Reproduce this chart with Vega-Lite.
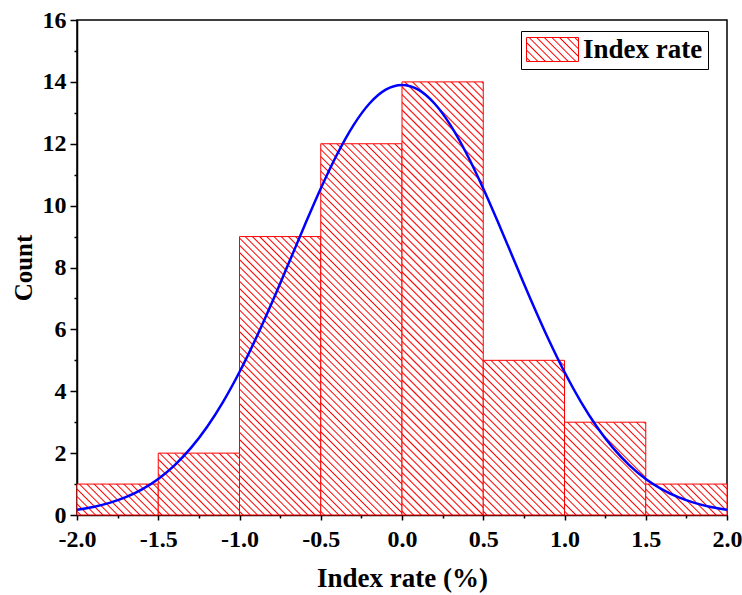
{
"$schema": "https://vega.github.io/schema/vega-lite/v6.json",
"width": 650, "height": 495,
"autosize": "none",
"padding": {"left": 77, "top": 20, "right": 15, "bottom": 80},
"config": {"font": "Liberation Serif", "view": {"stroke": "black", "strokeWidth": 1.5}},
"datasets": {
"bins": [
{"start": -2.0, "end": -1.5, "count": 1},
{"start": -1.5, "end": -1.0, "count": 2},
{"start": -1.0, "end": -0.5, "count": 9},
{"start": -0.5, "end": 0.0, "count": 12},
{"start": 0.0, "end": 0.5, "count": 14},
{"start": 0.5, "end": 1.0, "count": 5},
{"start": 1.0, "end": 1.5, "count": 3},
{"start": 1.5, "end": 2.0, "count": 1}
],
"curve": [
{"x": -2.0, "y": 0.170},{"x": -1.9, "y": 0.261},{"x": -1.8, "y": 0.392},{"x": -1.7, "y": 0.576},{"x": -1.6, "y": 0.829},
{"x": -1.5, "y": 1.166},{"x": -1.4, "y": 1.605},{"x": -1.3, "y": 2.161},{"x": -1.2, "y": 2.847},{"x": -1.1, "y": 3.667},
{"x": -1.0, "y": 4.621},{"x": -0.9, "y": 5.696},{"x": -0.8, "y": 6.869},{"x": -0.7, "y": 8.103},{"x": -0.6, "y": 9.350},
{"x": -0.5, "y": 10.555},{"x": -0.4, "y": 11.654},{"x": -0.3, "y": 12.588},{"x": -0.2, "y": 13.301},{"x": -0.1, "y": 13.748},
{"x": 0.0, "y": 13.9},
{"x": 0.1, "y": 13.748},{"x": 0.2, "y": 13.301},{"x": 0.3, "y": 12.588},{"x": 0.4, "y": 11.654},{"x": 0.5, "y": 10.555},
{"x": 0.6, "y": 9.350},{"x": 0.7, "y": 8.103},{"x": 0.8, "y": 6.869},{"x": 0.9, "y": 5.696},{"x": 1.0, "y": 4.621},
{"x": 1.1, "y": 3.667},{"x": 1.2, "y": 2.847},{"x": 1.3, "y": 2.161},{"x": 1.4, "y": 1.605},{"x": 1.5, "y": 1.166},
{"x": 1.6, "y": 0.829},{"x": 1.7, "y": 0.576},{"x": 1.8, "y": 0.392},{"x": 1.9, "y": 0.261},{"x": 2.0, "y": 0.170}
]
},
"resolve": {"axis": {"x": "independent", "y": "independent"}},
"layer": [
{
"data": {"name": "bins"},
"mark": {"type": "bar", "strokeWidth": 1, "opacity": 1},
"encoding": {
"x": {"field": "start", "type": "quantitative", "scale": {"domain": [-2, 2], "nice": false},
  "axis": {"orient": "bottom", "values": [-2, -1.5, -1, -0.5, 0, 0.5, 1, 1.5, 2],
  "labelExpr": "(datum.value < 0 ? '-' : '') + format(abs(datum.value), '.1f')", "grid": false,
  "tickSize": 5, "tickWidth": 1.5, "tickColor": "black", "domainColor": "black", "domainWidth": 1.5,
  "labelFont": "Liberation Serif", "labelFontSize": 24, "labelFontWeight": "bold", "labelColor": "black", "labelPadding": 7,
  "labelFlush": false, "labelOverlap": false,
  "title": "Index rate (%)", "titleFont": "Liberation Serif", "titleFontSize": 27, "titleFontWeight": "bold", "titleColor": "black", "titlePadding": 14}},
"x2": {"field": "end"},
"y": {"field": "count", "type": "quantitative", "scale": {"domain": [0, 16], "nice": false},
  "axis": {"orient": "left", "values": [0, 2, 4, 6, 8, 10, 12, 14, 16], "grid": false,
  "tickSize": 7, "tickWidth": 1.5, "tickColor": "black", "domainColor": "black", "domainWidth": 1.5,
  "labelFont": "Liberation Serif", "labelFontSize": 24, "labelFontWeight": "bold", "labelColor": "black", "labelPadding": 4,
  "labelFlush": false, "labelOverlap": false,
  "title": "Count", "titleFont": "Liberation Serif", "titleFontSize": 25, "titleFontWeight": "bold", "titleColor": "black", "titlePadding": 6}},
"y2": {"datum": 0},
"stroke": {"datum": "Index rate", "type": "nominal", "scale": {"range": ["#ff0000"]},
  "legend": {"title": null, "orient": "none", "legendX": 444, "legendY": 11,
  "symbolType": "M-2,-0.923H2V0.923H-2Z", "symbolSize": 676, "symbolStrokeWidth": 1, "symbolOpacity": 1, "symbolOffset": 13,
  "labelFont": "Liberation Serif", "labelFontSize": 27, "labelFontWeight": "bold", "labelColor": "black", "labelLimit": 400,
  "labelOffset": 17, "padding": 5, "strokeColor": "black"}},
"fill": {"condition": [
{"test": "datum.count == 1", "value": {"gradient": "linear", "x1": 0, "y1": 1, "x2": 1.2059, "y2": 0.5408, "stops": [
{"offset":0.0205,"color":"#fff"},{"offset":0.033,"color":"#f00"},{"offset":0.0455,"color":"#fff"},
{"offset":0.0865,"color":"#fff"},{"offset":0.099,"color":"#f00"},{"offset":0.1115,"color":"#fff"},
{"offset":0.1525,"color":"#fff"},{"offset":0.165,"color":"#f00"},{"offset":0.1775,"color":"#fff"},
{"offset":0.2185,"color":"#fff"},{"offset":0.231,"color":"#f00"},{"offset":0.2435,"color":"#fff"},
{"offset":0.2845,"color":"#fff"},{"offset":0.297,"color":"#f00"},{"offset":0.3095,"color":"#fff"},
{"offset":0.3505,"color":"#fff"},{"offset":0.363,"color":"#f00"},{"offset":0.3755,"color":"#fff"},
{"offset":0.4165,"color":"#fff"},{"offset":0.429,"color":"#f00"},{"offset":0.4415,"color":"#fff"},
{"offset":0.4825,"color":"#fff"},{"offset":0.495,"color":"#f00"},{"offset":0.5075,"color":"#fff"},
{"offset":0.5485,"color":"#fff"},{"offset":0.561,"color":"#f00"},{"offset":0.5735,"color":"#fff"},
{"offset":0.6145,"color":"#fff"},{"offset":0.627,"color":"#f00"},{"offset":0.6395,"color":"#fff"},
{"offset":0.6805,"color":"#fff"},{"offset":0.693,"color":"#f00"},{"offset":0.7055,"color":"#fff"},
{"offset":0.7465,"color":"#fff"},{"offset":0.759,"color":"#f00"},{"offset":0.7715,"color":"#fff"},
{"offset":0.8125,"color":"#fff"},{"offset":0.825,"color":"#f00"},{"offset":0.8375,"color":"#fff"},
{"offset":0.8785,"color":"#fff"},{"offset":0.891,"color":"#f00"},{"offset":0.9035,"color":"#fff"},
{"offset":0.9445,"color":"#fff"},{"offset":0.957,"color":"#f00"},{"offset":0.9695,"color":"#fff"}]}},
{"test": "datum.count == 2", "value": {"gradient": "linear", "x1": 0, "y1": 1, "x2": 1.1149, "y2": 0.1509, "stops": [
{"offset":0.016,"color":"#fff"},{"offset":0.026,"color":"#f00"},{"offset":0.036,"color":"#fff"},
{"offset":0.068,"color":"#fff"},{"offset":0.078,"color":"#f00"},{"offset":0.088,"color":"#fff"},
{"offset":0.120,"color":"#fff"},{"offset":0.130,"color":"#f00"},{"offset":0.140,"color":"#fff"},
{"offset":0.172,"color":"#fff"},{"offset":0.182,"color":"#f00"},{"offset":0.192,"color":"#fff"},
{"offset":0.224,"color":"#fff"},{"offset":0.234,"color":"#f00"},{"offset":0.244,"color":"#fff"},
{"offset":0.276,"color":"#fff"},{"offset":0.286,"color":"#f00"},{"offset":0.296,"color":"#fff"},
{"offset":0.328,"color":"#fff"},{"offset":0.338,"color":"#f00"},{"offset":0.348,"color":"#fff"},
{"offset":0.380,"color":"#fff"},{"offset":0.390,"color":"#f00"},{"offset":0.400,"color":"#fff"},
{"offset":0.432,"color":"#fff"},{"offset":0.442,"color":"#f00"},{"offset":0.452,"color":"#fff"},
{"offset":0.484,"color":"#fff"},{"offset":0.494,"color":"#f00"},{"offset":0.504,"color":"#fff"},
{"offset":0.536,"color":"#fff"},{"offset":0.546,"color":"#f00"},{"offset":0.556,"color":"#fff"},
{"offset":0.588,"color":"#fff"},{"offset":0.598,"color":"#f00"},{"offset":0.608,"color":"#fff"},
{"offset":0.640,"color":"#fff"},{"offset":0.650,"color":"#f00"},{"offset":0.660,"color":"#fff"},
{"offset":0.692,"color":"#fff"},{"offset":0.702,"color":"#f00"},{"offset":0.712,"color":"#fff"},
{"offset":0.744,"color":"#fff"},{"offset":0.754,"color":"#f00"},{"offset":0.764,"color":"#fff"},
{"offset":0.796,"color":"#fff"},{"offset":0.806,"color":"#f00"},{"offset":0.816,"color":"#fff"},
{"offset":0.848,"color":"#fff"},{"offset":0.858,"color":"#f00"},{"offset":0.868,"color":"#fff"},
{"offset":0.900,"color":"#fff"},{"offset":0.910,"color":"#f00"},{"offset":0.920,"color":"#fff"},
{"offset":0.952,"color":"#fff"},{"offset":0.962,"color":"#f00"},{"offset":0.972,"color":"#fff"}]}},
{"test": "datum.count == 3", "value": {"gradient": "linear", "x1": 0, "y1": 1, "x2": 0.9295, "y2": -0.0618, "stops": [
{"offset":0.014,"color":"#fff"},{"offset":0.022,"color":"#f00"},{"offset":0.030,"color":"#fff"},
{"offset":0.058,"color":"#fff"},{"offset":0.066,"color":"#f00"},{"offset":0.074,"color":"#fff"},
{"offset":0.102,"color":"#fff"},{"offset":0.110,"color":"#f00"},{"offset":0.118,"color":"#fff"},
{"offset":0.146,"color":"#fff"},{"offset":0.154,"color":"#f00"},{"offset":0.162,"color":"#fff"},
{"offset":0.190,"color":"#fff"},{"offset":0.198,"color":"#f00"},{"offset":0.206,"color":"#fff"},
{"offset":0.234,"color":"#fff"},{"offset":0.242,"color":"#f00"},{"offset":0.250,"color":"#fff"},
{"offset":0.278,"color":"#fff"},{"offset":0.286,"color":"#f00"},{"offset":0.294,"color":"#fff"},
{"offset":0.322,"color":"#fff"},{"offset":0.330,"color":"#f00"},{"offset":0.338,"color":"#fff"},
{"offset":0.366,"color":"#fff"},{"offset":0.374,"color":"#f00"},{"offset":0.382,"color":"#fff"},
{"offset":0.410,"color":"#fff"},{"offset":0.418,"color":"#f00"},{"offset":0.426,"color":"#fff"},
{"offset":0.454,"color":"#fff"},{"offset":0.462,"color":"#f00"},{"offset":0.470,"color":"#fff"},
{"offset":0.498,"color":"#fff"},{"offset":0.506,"color":"#f00"},{"offset":0.514,"color":"#fff"},
{"offset":0.542,"color":"#fff"},{"offset":0.550,"color":"#f00"},{"offset":0.558,"color":"#fff"},
{"offset":0.586,"color":"#fff"},{"offset":0.594,"color":"#f00"},{"offset":0.602,"color":"#fff"},
{"offset":0.630,"color":"#fff"},{"offset":0.638,"color":"#f00"},{"offset":0.646,"color":"#fff"},
{"offset":0.674,"color":"#fff"},{"offset":0.682,"color":"#f00"},{"offset":0.690,"color":"#fff"},
{"offset":0.718,"color":"#fff"},{"offset":0.726,"color":"#f00"},{"offset":0.734,"color":"#fff"},
{"offset":0.762,"color":"#fff"},{"offset":0.770,"color":"#f00"},{"offset":0.778,"color":"#fff"},
{"offset":0.806,"color":"#fff"},{"offset":0.814,"color":"#f00"},{"offset":0.822,"color":"#fff"},
{"offset":0.850,"color":"#fff"},{"offset":0.858,"color":"#f00"},{"offset":0.866,"color":"#fff"},
{"offset":0.894,"color":"#fff"},{"offset":0.902,"color":"#f00"},{"offset":0.910,"color":"#fff"},
{"offset":0.938,"color":"#fff"},{"offset":0.946,"color":"#f00"},{"offset":0.954,"color":"#fff"},
{"offset":0.982,"color":"#fff"},{"offset":0.990,"color":"#f00"},{"offset":0.998,"color":"#fff"}]}},
{"test": "datum.count == 5", "value": {"gradient": "linear", "x1": 0, "y1": 1, "x2": 0.6279, "y2": -0.1954, "stops": [
{"offset":0.010,"color":"#fff"},{"offset":0.016,"color":"#f00"},{"offset":0.022,"color":"#fff"},
{"offset":0.042,"color":"#fff"},{"offset":0.048,"color":"#f00"},{"offset":0.054,"color":"#fff"},
{"offset":0.074,"color":"#fff"},{"offset":0.080,"color":"#f00"},{"offset":0.086,"color":"#fff"},
{"offset":0.106,"color":"#fff"},{"offset":0.112,"color":"#f00"},{"offset":0.118,"color":"#fff"},
{"offset":0.138,"color":"#fff"},{"offset":0.144,"color":"#f00"},{"offset":0.150,"color":"#fff"},
{"offset":0.170,"color":"#fff"},{"offset":0.176,"color":"#f00"},{"offset":0.182,"color":"#fff"},
{"offset":0.202,"color":"#fff"},{"offset":0.208,"color":"#f00"},{"offset":0.214,"color":"#fff"},
{"offset":0.234,"color":"#fff"},{"offset":0.240,"color":"#f00"},{"offset":0.246,"color":"#fff"},
{"offset":0.266,"color":"#fff"},{"offset":0.272,"color":"#f00"},{"offset":0.278,"color":"#fff"},
{"offset":0.298,"color":"#fff"},{"offset":0.304,"color":"#f00"},{"offset":0.310,"color":"#fff"},
{"offset":0.330,"color":"#fff"},{"offset":0.336,"color":"#f00"},{"offset":0.342,"color":"#fff"},
{"offset":0.362,"color":"#fff"},{"offset":0.368,"color":"#f00"},{"offset":0.374,"color":"#fff"},
{"offset":0.394,"color":"#fff"},{"offset":0.400,"color":"#f00"},{"offset":0.406,"color":"#fff"},
{"offset":0.426,"color":"#fff"},{"offset":0.432,"color":"#f00"},{"offset":0.438,"color":"#fff"},
{"offset":0.458,"color":"#fff"},{"offset":0.464,"color":"#f00"},{"offset":0.470,"color":"#fff"},
{"offset":0.490,"color":"#fff"},{"offset":0.496,"color":"#f00"},{"offset":0.502,"color":"#fff"},
{"offset":0.522,"color":"#fff"},{"offset":0.528,"color":"#f00"},{"offset":0.534,"color":"#fff"},
{"offset":0.554,"color":"#fff"},{"offset":0.560,"color":"#f00"},{"offset":0.566,"color":"#fff"},
{"offset":0.586,"color":"#fff"},{"offset":0.592,"color":"#f00"},{"offset":0.598,"color":"#fff"},
{"offset":0.618,"color":"#fff"},{"offset":0.624,"color":"#f00"},{"offset":0.630,"color":"#fff"},
{"offset":0.650,"color":"#fff"},{"offset":0.656,"color":"#f00"},{"offset":0.662,"color":"#fff"},
{"offset":0.682,"color":"#fff"},{"offset":0.688,"color":"#f00"},{"offset":0.694,"color":"#fff"},
{"offset":0.714,"color":"#fff"},{"offset":0.720,"color":"#f00"},{"offset":0.726,"color":"#fff"},
{"offset":0.746,"color":"#fff"},{"offset":0.752,"color":"#f00"},{"offset":0.758,"color":"#fff"},
{"offset":0.778,"color":"#fff"},{"offset":0.784,"color":"#f00"},{"offset":0.790,"color":"#fff"},
{"offset":0.810,"color":"#fff"},{"offset":0.816,"color":"#f00"},{"offset":0.822,"color":"#fff"},
{"offset":0.842,"color":"#fff"},{"offset":0.848,"color":"#f00"},{"offset":0.854,"color":"#fff"},
{"offset":0.874,"color":"#fff"},{"offset":0.880,"color":"#f00"},{"offset":0.886,"color":"#fff"},
{"offset":0.906,"color":"#fff"},{"offset":0.912,"color":"#f00"},{"offset":0.918,"color":"#fff"},
{"offset":0.938,"color":"#fff"},{"offset":0.944,"color":"#f00"},{"offset":0.950,"color":"#fff"},
{"offset":0.970,"color":"#fff"},{"offset":0.976,"color":"#f00"},{"offset":0.982,"color":"#fff"}]}},
{"test": "datum.count == 9", "value": {"gradient": "linear", "x1": 0, "y1": 1, "x2": 0.3474, "y2": -0.1904, "stops": [
{"offset":0.006,"color":"#fff"},{"offset":0.01,"color":"#f00"},{"offset":0.014,"color":"#fff"},
{"offset":0.026,"color":"#fff"},{"offset":0.03,"color":"#f00"},{"offset":0.034,"color":"#fff"},
{"offset":0.046,"color":"#fff"},{"offset":0.05,"color":"#f00"},{"offset":0.054,"color":"#fff"},
{"offset":0.066,"color":"#fff"},{"offset":0.07,"color":"#f00"},{"offset":0.074,"color":"#fff"},
{"offset":0.086,"color":"#fff"},{"offset":0.09,"color":"#f00"},{"offset":0.094,"color":"#fff"},
{"offset":0.106,"color":"#fff"},{"offset":0.11,"color":"#f00"},{"offset":0.114,"color":"#fff"},
{"offset":0.126,"color":"#fff"},{"offset":0.13,"color":"#f00"},{"offset":0.134,"color":"#fff"},
{"offset":0.146,"color":"#fff"},{"offset":0.15,"color":"#f00"},{"offset":0.154,"color":"#fff"},
{"offset":0.166,"color":"#fff"},{"offset":0.17,"color":"#f00"},{"offset":0.174,"color":"#fff"},
{"offset":0.186,"color":"#fff"},{"offset":0.19,"color":"#f00"},{"offset":0.194,"color":"#fff"},
{"offset":0.206,"color":"#fff"},{"offset":0.21,"color":"#f00"},{"offset":0.214,"color":"#fff"},
{"offset":0.226,"color":"#fff"},{"offset":0.23,"color":"#f00"},{"offset":0.234,"color":"#fff"},
{"offset":0.246,"color":"#fff"},{"offset":0.25,"color":"#f00"},{"offset":0.254,"color":"#fff"},
{"offset":0.266,"color":"#fff"},{"offset":0.27,"color":"#f00"},{"offset":0.274,"color":"#fff"},
{"offset":0.286,"color":"#fff"},{"offset":0.29,"color":"#f00"},{"offset":0.294,"color":"#fff"},
{"offset":0.306,"color":"#fff"},{"offset":0.31,"color":"#f00"},{"offset":0.314,"color":"#fff"},
{"offset":0.326,"color":"#fff"},{"offset":0.33,"color":"#f00"},{"offset":0.334,"color":"#fff"},
{"offset":0.346,"color":"#fff"},{"offset":0.35,"color":"#f00"},{"offset":0.354,"color":"#fff"},
{"offset":0.366,"color":"#fff"},{"offset":0.37,"color":"#f00"},{"offset":0.374,"color":"#fff"},
{"offset":0.386,"color":"#fff"},{"offset":0.39,"color":"#f00"},{"offset":0.394,"color":"#fff"},
{"offset":0.406,"color":"#fff"},{"offset":0.41,"color":"#f00"},{"offset":0.414,"color":"#fff"},
{"offset":0.426,"color":"#fff"},{"offset":0.43,"color":"#f00"},{"offset":0.434,"color":"#fff"},
{"offset":0.446,"color":"#fff"},{"offset":0.45,"color":"#f00"},{"offset":0.454,"color":"#fff"},
{"offset":0.466,"color":"#fff"},{"offset":0.47,"color":"#f00"},{"offset":0.474,"color":"#fff"},
{"offset":0.486,"color":"#fff"},{"offset":0.49,"color":"#f00"},{"offset":0.494,"color":"#fff"},
{"offset":0.506,"color":"#fff"},{"offset":0.51,"color":"#f00"},{"offset":0.514,"color":"#fff"},
{"offset":0.526,"color":"#fff"},{"offset":0.53,"color":"#f00"},{"offset":0.534,"color":"#fff"},
{"offset":0.546,"color":"#fff"},{"offset":0.55,"color":"#f00"},{"offset":0.554,"color":"#fff"},
{"offset":0.566,"color":"#fff"},{"offset":0.57,"color":"#f00"},{"offset":0.574,"color":"#fff"},
{"offset":0.586,"color":"#fff"},{"offset":0.59,"color":"#f00"},{"offset":0.594,"color":"#fff"},
{"offset":0.606,"color":"#fff"},{"offset":0.61,"color":"#f00"},{"offset":0.614,"color":"#fff"},
{"offset":0.626,"color":"#fff"},{"offset":0.63,"color":"#f00"},{"offset":0.634,"color":"#fff"},
{"offset":0.646,"color":"#fff"},{"offset":0.65,"color":"#f00"},{"offset":0.654,"color":"#fff"},
{"offset":0.666,"color":"#fff"},{"offset":0.67,"color":"#f00"},{"offset":0.674,"color":"#fff"},
{"offset":0.686,"color":"#fff"},{"offset":0.69,"color":"#f00"},{"offset":0.694,"color":"#fff"},
{"offset":0.706,"color":"#fff"},{"offset":0.71,"color":"#f00"},{"offset":0.714,"color":"#fff"},
{"offset":0.726,"color":"#fff"},{"offset":0.73,"color":"#f00"},{"offset":0.734,"color":"#fff"},
{"offset":0.746,"color":"#fff"},{"offset":0.75,"color":"#f00"},{"offset":0.754,"color":"#fff"},
{"offset":0.766,"color":"#fff"},{"offset":0.77,"color":"#f00"},{"offset":0.774,"color":"#fff"},
{"offset":0.786,"color":"#fff"},{"offset":0.79,"color":"#f00"},{"offset":0.794,"color":"#fff"},
{"offset":0.806,"color":"#fff"},{"offset":0.81,"color":"#f00"},{"offset":0.814,"color":"#fff"},
{"offset":0.826,"color":"#fff"},{"offset":0.83,"color":"#f00"},{"offset":0.834,"color":"#fff"},
{"offset":0.846,"color":"#fff"},{"offset":0.85,"color":"#f00"},{"offset":0.854,"color":"#fff"},
{"offset":0.866,"color":"#fff"},{"offset":0.87,"color":"#f00"},{"offset":0.874,"color":"#fff"},
{"offset":0.886,"color":"#fff"},{"offset":0.89,"color":"#f00"},{"offset":0.894,"color":"#fff"},
{"offset":0.906,"color":"#fff"},{"offset":0.91,"color":"#f00"},{"offset":0.914,"color":"#fff"},
{"offset":0.926,"color":"#fff"},{"offset":0.93,"color":"#f00"},{"offset":0.934,"color":"#fff"},
{"offset":0.946,"color":"#fff"},{"offset":0.95,"color":"#f00"},{"offset":0.954,"color":"#fff"},
{"offset":0.966,"color":"#fff"},{"offset":0.97,"color":"#f00"},{"offset":0.974,"color":"#fff"},
{"offset":0.986,"color":"#fff"},{"offset":0.99,"color":"#f00"},{"offset":0.994,"color":"#fff"}]}},
{"test": "datum.count == 12", "value": {"gradient": "linear", "x1": 0, "y1": 1, "x2": 0.2546, "y2": -0.1632, "stops": [
{"offset":0.005,"color":"#fff"},{"offset":0.008,"color":"#f00"},{"offset":0.011,"color":"#fff"},
{"offset":0.021,"color":"#fff"},{"offset":0.024,"color":"#f00"},{"offset":0.027,"color":"#fff"},
{"offset":0.037,"color":"#fff"},{"offset":0.040,"color":"#f00"},{"offset":0.043,"color":"#fff"},
{"offset":0.053,"color":"#fff"},{"offset":0.056,"color":"#f00"},{"offset":0.059,"color":"#fff"},
{"offset":0.069,"color":"#fff"},{"offset":0.072,"color":"#f00"},{"offset":0.075,"color":"#fff"},
{"offset":0.085,"color":"#fff"},{"offset":0.088,"color":"#f00"},{"offset":0.091,"color":"#fff"},
{"offset":0.101,"color":"#fff"},{"offset":0.104,"color":"#f00"},{"offset":0.107,"color":"#fff"},
{"offset":0.117,"color":"#fff"},{"offset":0.120,"color":"#f00"},{"offset":0.123,"color":"#fff"},
{"offset":0.133,"color":"#fff"},{"offset":0.136,"color":"#f00"},{"offset":0.139,"color":"#fff"},
{"offset":0.149,"color":"#fff"},{"offset":0.152,"color":"#f00"},{"offset":0.155,"color":"#fff"},
{"offset":0.165,"color":"#fff"},{"offset":0.168,"color":"#f00"},{"offset":0.171,"color":"#fff"},
{"offset":0.181,"color":"#fff"},{"offset":0.184,"color":"#f00"},{"offset":0.187,"color":"#fff"},
{"offset":0.197,"color":"#fff"},{"offset":0.200,"color":"#f00"},{"offset":0.203,"color":"#fff"},
{"offset":0.213,"color":"#fff"},{"offset":0.216,"color":"#f00"},{"offset":0.219,"color":"#fff"},
{"offset":0.229,"color":"#fff"},{"offset":0.232,"color":"#f00"},{"offset":0.235,"color":"#fff"},
{"offset":0.245,"color":"#fff"},{"offset":0.248,"color":"#f00"},{"offset":0.251,"color":"#fff"},
{"offset":0.261,"color":"#fff"},{"offset":0.264,"color":"#f00"},{"offset":0.267,"color":"#fff"},
{"offset":0.277,"color":"#fff"},{"offset":0.280,"color":"#f00"},{"offset":0.283,"color":"#fff"},
{"offset":0.293,"color":"#fff"},{"offset":0.296,"color":"#f00"},{"offset":0.299,"color":"#fff"},
{"offset":0.309,"color":"#fff"},{"offset":0.312,"color":"#f00"},{"offset":0.315,"color":"#fff"},
{"offset":0.325,"color":"#fff"},{"offset":0.328,"color":"#f00"},{"offset":0.331,"color":"#fff"},
{"offset":0.341,"color":"#fff"},{"offset":0.344,"color":"#f00"},{"offset":0.347,"color":"#fff"},
{"offset":0.357,"color":"#fff"},{"offset":0.360,"color":"#f00"},{"offset":0.363,"color":"#fff"},
{"offset":0.373,"color":"#fff"},{"offset":0.376,"color":"#f00"},{"offset":0.379,"color":"#fff"},
{"offset":0.389,"color":"#fff"},{"offset":0.392,"color":"#f00"},{"offset":0.395,"color":"#fff"},
{"offset":0.405,"color":"#fff"},{"offset":0.408,"color":"#f00"},{"offset":0.411,"color":"#fff"},
{"offset":0.421,"color":"#fff"},{"offset":0.424,"color":"#f00"},{"offset":0.427,"color":"#fff"},
{"offset":0.437,"color":"#fff"},{"offset":0.440,"color":"#f00"},{"offset":0.443,"color":"#fff"},
{"offset":0.453,"color":"#fff"},{"offset":0.456,"color":"#f00"},{"offset":0.459,"color":"#fff"},
{"offset":0.469,"color":"#fff"},{"offset":0.472,"color":"#f00"},{"offset":0.475,"color":"#fff"},
{"offset":0.485,"color":"#fff"},{"offset":0.488,"color":"#f00"},{"offset":0.491,"color":"#fff"},
{"offset":0.501,"color":"#fff"},{"offset":0.504,"color":"#f00"},{"offset":0.507,"color":"#fff"},
{"offset":0.517,"color":"#fff"},{"offset":0.520,"color":"#f00"},{"offset":0.523,"color":"#fff"},
{"offset":0.533,"color":"#fff"},{"offset":0.536,"color":"#f00"},{"offset":0.539,"color":"#fff"},
{"offset":0.549,"color":"#fff"},{"offset":0.552,"color":"#f00"},{"offset":0.555,"color":"#fff"},
{"offset":0.565,"color":"#fff"},{"offset":0.568,"color":"#f00"},{"offset":0.571,"color":"#fff"},
{"offset":0.581,"color":"#fff"},{"offset":0.584,"color":"#f00"},{"offset":0.587,"color":"#fff"},
{"offset":0.597,"color":"#fff"},{"offset":0.600,"color":"#f00"},{"offset":0.603,"color":"#fff"},
{"offset":0.613,"color":"#fff"},{"offset":0.616,"color":"#f00"},{"offset":0.619,"color":"#fff"},
{"offset":0.629,"color":"#fff"},{"offset":0.632,"color":"#f00"},{"offset":0.635,"color":"#fff"},
{"offset":0.645,"color":"#fff"},{"offset":0.648,"color":"#f00"},{"offset":0.651,"color":"#fff"},
{"offset":0.661,"color":"#fff"},{"offset":0.664,"color":"#f00"},{"offset":0.667,"color":"#fff"},
{"offset":0.677,"color":"#fff"},{"offset":0.680,"color":"#f00"},{"offset":0.683,"color":"#fff"},
{"offset":0.693,"color":"#fff"},{"offset":0.696,"color":"#f00"},{"offset":0.699,"color":"#fff"},
{"offset":0.709,"color":"#fff"},{"offset":0.712,"color":"#f00"},{"offset":0.715,"color":"#fff"},
{"offset":0.725,"color":"#fff"},{"offset":0.728,"color":"#f00"},{"offset":0.731,"color":"#fff"},
{"offset":0.741,"color":"#fff"},{"offset":0.744,"color":"#f00"},{"offset":0.747,"color":"#fff"},
{"offset":0.757,"color":"#fff"},{"offset":0.760,"color":"#f00"},{"offset":0.763,"color":"#fff"},
{"offset":0.773,"color":"#fff"},{"offset":0.776,"color":"#f00"},{"offset":0.779,"color":"#fff"},
{"offset":0.789,"color":"#fff"},{"offset":0.792,"color":"#f00"},{"offset":0.795,"color":"#fff"},
{"offset":0.805,"color":"#fff"},{"offset":0.808,"color":"#f00"},{"offset":0.811,"color":"#fff"},
{"offset":0.821,"color":"#fff"},{"offset":0.824,"color":"#f00"},{"offset":0.827,"color":"#fff"},
{"offset":0.837,"color":"#fff"},{"offset":0.840,"color":"#f00"},{"offset":0.843,"color":"#fff"},
{"offset":0.853,"color":"#fff"},{"offset":0.856,"color":"#f00"},{"offset":0.859,"color":"#fff"},
{"offset":0.869,"color":"#fff"},{"offset":0.872,"color":"#f00"},{"offset":0.875,"color":"#fff"},
{"offset":0.885,"color":"#fff"},{"offset":0.888,"color":"#f00"},{"offset":0.891,"color":"#fff"},
{"offset":0.901,"color":"#fff"},{"offset":0.904,"color":"#f00"},{"offset":0.907,"color":"#fff"},
{"offset":0.917,"color":"#fff"},{"offset":0.920,"color":"#f00"},{"offset":0.923,"color":"#fff"},
{"offset":0.933,"color":"#fff"},{"offset":0.936,"color":"#f00"},{"offset":0.939,"color":"#fff"},
{"offset":0.949,"color":"#fff"},{"offset":0.952,"color":"#f00"},{"offset":0.955,"color":"#fff"},
{"offset":0.965,"color":"#fff"},{"offset":0.968,"color":"#f00"},{"offset":0.971,"color":"#fff"},
{"offset":0.981,"color":"#fff"},{"offset":0.984,"color":"#f00"},{"offset":0.987,"color":"#fff"}]}},
{"test": "datum.count == 14", "value": {"gradient": "linear", "x1": 0, "y1": 1, "x2": 0.2152, "y2": -0.1472, "stops": [
{"offset":0.0045,"color":"#fff"},{"offset":0.0075,"color":"#f00"},{"offset":0.0105,"color":"#fff"},
{"offset":0.0195,"color":"#fff"},{"offset":0.0225,"color":"#f00"},{"offset":0.0255,"color":"#fff"},
{"offset":0.0345,"color":"#fff"},{"offset":0.0375,"color":"#f00"},{"offset":0.0405,"color":"#fff"},
{"offset":0.0495,"color":"#fff"},{"offset":0.0525,"color":"#f00"},{"offset":0.0555,"color":"#fff"},
{"offset":0.0645,"color":"#fff"},{"offset":0.0675,"color":"#f00"},{"offset":0.0705,"color":"#fff"},
{"offset":0.0795,"color":"#fff"},{"offset":0.0825,"color":"#f00"},{"offset":0.0855,"color":"#fff"},
{"offset":0.0945,"color":"#fff"},{"offset":0.0975,"color":"#f00"},{"offset":0.1005,"color":"#fff"},
{"offset":0.1095,"color":"#fff"},{"offset":0.1125,"color":"#f00"},{"offset":0.1155,"color":"#fff"},
{"offset":0.1245,"color":"#fff"},{"offset":0.1275,"color":"#f00"},{"offset":0.1305,"color":"#fff"},
{"offset":0.1395,"color":"#fff"},{"offset":0.1425,"color":"#f00"},{"offset":0.1455,"color":"#fff"},
{"offset":0.1545,"color":"#fff"},{"offset":0.1575,"color":"#f00"},{"offset":0.1605,"color":"#fff"},
{"offset":0.1695,"color":"#fff"},{"offset":0.1725,"color":"#f00"},{"offset":0.1755,"color":"#fff"},
{"offset":0.1845,"color":"#fff"},{"offset":0.1875,"color":"#f00"},{"offset":0.1905,"color":"#fff"},
{"offset":0.1995,"color":"#fff"},{"offset":0.2025,"color":"#f00"},{"offset":0.2055,"color":"#fff"},
{"offset":0.2145,"color":"#fff"},{"offset":0.2175,"color":"#f00"},{"offset":0.2205,"color":"#fff"},
{"offset":0.2295,"color":"#fff"},{"offset":0.2325,"color":"#f00"},{"offset":0.2355,"color":"#fff"},
{"offset":0.2445,"color":"#fff"},{"offset":0.2475,"color":"#f00"},{"offset":0.2505,"color":"#fff"},
{"offset":0.2595,"color":"#fff"},{"offset":0.2625,"color":"#f00"},{"offset":0.2655,"color":"#fff"},
{"offset":0.2745,"color":"#fff"},{"offset":0.2775,"color":"#f00"},{"offset":0.2805,"color":"#fff"},
{"offset":0.2895,"color":"#fff"},{"offset":0.2925,"color":"#f00"},{"offset":0.2955,"color":"#fff"},
{"offset":0.3045,"color":"#fff"},{"offset":0.3075,"color":"#f00"},{"offset":0.3105,"color":"#fff"},
{"offset":0.3195,"color":"#fff"},{"offset":0.3225,"color":"#f00"},{"offset":0.3255,"color":"#fff"},
{"offset":0.3345,"color":"#fff"},{"offset":0.3375,"color":"#f00"},{"offset":0.3405,"color":"#fff"},
{"offset":0.3495,"color":"#fff"},{"offset":0.3525,"color":"#f00"},{"offset":0.3555,"color":"#fff"},
{"offset":0.3645,"color":"#fff"},{"offset":0.3675,"color":"#f00"},{"offset":0.3705,"color":"#fff"},
{"offset":0.3795,"color":"#fff"},{"offset":0.3825,"color":"#f00"},{"offset":0.3855,"color":"#fff"},
{"offset":0.3945,"color":"#fff"},{"offset":0.3975,"color":"#f00"},{"offset":0.4005,"color":"#fff"},
{"offset":0.4095,"color":"#fff"},{"offset":0.4125,"color":"#f00"},{"offset":0.4155,"color":"#fff"},
{"offset":0.4245,"color":"#fff"},{"offset":0.4275,"color":"#f00"},{"offset":0.4305,"color":"#fff"},
{"offset":0.4395,"color":"#fff"},{"offset":0.4425,"color":"#f00"},{"offset":0.4455,"color":"#fff"},
{"offset":0.4545,"color":"#fff"},{"offset":0.4575,"color":"#f00"},{"offset":0.4605,"color":"#fff"},
{"offset":0.4695,"color":"#fff"},{"offset":0.4725,"color":"#f00"},{"offset":0.4755,"color":"#fff"},
{"offset":0.4845,"color":"#fff"},{"offset":0.4875,"color":"#f00"},{"offset":0.4905,"color":"#fff"},
{"offset":0.4995,"color":"#fff"},{"offset":0.5025,"color":"#f00"},{"offset":0.5055,"color":"#fff"},
{"offset":0.5145,"color":"#fff"},{"offset":0.5175,"color":"#f00"},{"offset":0.5205,"color":"#fff"},
{"offset":0.5295,"color":"#fff"},{"offset":0.5325,"color":"#f00"},{"offset":0.5355,"color":"#fff"},
{"offset":0.5445,"color":"#fff"},{"offset":0.5475,"color":"#f00"},{"offset":0.5505,"color":"#fff"},
{"offset":0.5595,"color":"#fff"},{"offset":0.5625,"color":"#f00"},{"offset":0.5655,"color":"#fff"},
{"offset":0.5745,"color":"#fff"},{"offset":0.5775,"color":"#f00"},{"offset":0.5805,"color":"#fff"},
{"offset":0.5895,"color":"#fff"},{"offset":0.5925,"color":"#f00"},{"offset":0.5955,"color":"#fff"},
{"offset":0.6045,"color":"#fff"},{"offset":0.6075,"color":"#f00"},{"offset":0.6105,"color":"#fff"},
{"offset":0.6195,"color":"#fff"},{"offset":0.6225,"color":"#f00"},{"offset":0.6255,"color":"#fff"},
{"offset":0.6345,"color":"#fff"},{"offset":0.6375,"color":"#f00"},{"offset":0.6405,"color":"#fff"},
{"offset":0.6495,"color":"#fff"},{"offset":0.6525,"color":"#f00"},{"offset":0.6555,"color":"#fff"},
{"offset":0.6645,"color":"#fff"},{"offset":0.6675,"color":"#f00"},{"offset":0.6705,"color":"#fff"},
{"offset":0.6795,"color":"#fff"},{"offset":0.6825,"color":"#f00"},{"offset":0.6855,"color":"#fff"},
{"offset":0.6945,"color":"#fff"},{"offset":0.6975,"color":"#f00"},{"offset":0.7005,"color":"#fff"},
{"offset":0.7095,"color":"#fff"},{"offset":0.7125,"color":"#f00"},{"offset":0.7155,"color":"#fff"},
{"offset":0.7245,"color":"#fff"},{"offset":0.7275,"color":"#f00"},{"offset":0.7305,"color":"#fff"},
{"offset":0.7395,"color":"#fff"},{"offset":0.7425,"color":"#f00"},{"offset":0.7455,"color":"#fff"},
{"offset":0.7545,"color":"#fff"},{"offset":0.7575,"color":"#f00"},{"offset":0.7605,"color":"#fff"},
{"offset":0.7695,"color":"#fff"},{"offset":0.7725,"color":"#f00"},{"offset":0.7755,"color":"#fff"},
{"offset":0.7845,"color":"#fff"},{"offset":0.7875,"color":"#f00"},{"offset":0.7905,"color":"#fff"},
{"offset":0.7995,"color":"#fff"},{"offset":0.8025,"color":"#f00"},{"offset":0.8055,"color":"#fff"},
{"offset":0.8145,"color":"#fff"},{"offset":0.8175,"color":"#f00"},{"offset":0.8205,"color":"#fff"},
{"offset":0.8295,"color":"#fff"},{"offset":0.8325,"color":"#f00"},{"offset":0.8355,"color":"#fff"},
{"offset":0.8445,"color":"#fff"},{"offset":0.8475,"color":"#f00"},{"offset":0.8505,"color":"#fff"},
{"offset":0.8595,"color":"#fff"},{"offset":0.8625,"color":"#f00"},{"offset":0.8655,"color":"#fff"},
{"offset":0.8745,"color":"#fff"},{"offset":0.8775,"color":"#f00"},{"offset":0.8805,"color":"#fff"},
{"offset":0.8895,"color":"#fff"},{"offset":0.8925,"color":"#f00"},{"offset":0.8955,"color":"#fff"},
{"offset":0.9045,"color":"#fff"},{"offset":0.9075,"color":"#f00"},{"offset":0.9105,"color":"#fff"},
{"offset":0.9195,"color":"#fff"},{"offset":0.9225,"color":"#f00"},{"offset":0.9255,"color":"#fff"},
{"offset":0.9345,"color":"#fff"},{"offset":0.9375,"color":"#f00"},{"offset":0.9405,"color":"#fff"},
{"offset":0.9495,"color":"#fff"},{"offset":0.9525,"color":"#f00"},{"offset":0.9555,"color":"#fff"},
{"offset":0.9645,"color":"#fff"},{"offset":0.9675,"color":"#f00"},{"offset":0.9705,"color":"#fff"},
{"offset":0.9795,"color":"#fff"},{"offset":0.9825,"color":"#f00"},{"offset":0.9855,"color":"#fff"},
{"offset":0.9945,"color":"#fff"},{"offset":0.9975,"color":"#f00"},{"offset":1.0,"color":"#fff"}]}}
], "value": {"gradient": "linear", "x1": 0, "y1": 1, "x2": 1.2049, "y2": 0.4439, "stops": [
  {"offset":0.032,"color":"#fff"},{"offset":0.05,"color":"#f00"},{"offset":0.068,"color":"#fff"},
  {"offset":0.132,"color":"#fff"},{"offset":0.15,"color":"#f00"},{"offset":0.168,"color":"#fff"},
  {"offset":0.232,"color":"#fff"},{"offset":0.25,"color":"#f00"},{"offset":0.268,"color":"#fff"},
  {"offset":0.332,"color":"#fff"},{"offset":0.35,"color":"#f00"},{"offset":0.368,"color":"#fff"},
  {"offset":0.432,"color":"#fff"},{"offset":0.45,"color":"#f00"},{"offset":0.468,"color":"#fff"},
  {"offset":0.532,"color":"#fff"},{"offset":0.55,"color":"#f00"},{"offset":0.568,"color":"#fff"},
  {"offset":0.632,"color":"#fff"},{"offset":0.65,"color":"#f00"},{"offset":0.668,"color":"#fff"},
  {"offset":0.732,"color":"#fff"},{"offset":0.75,"color":"#f00"},{"offset":0.768,"color":"#fff"},
  {"offset":0.832,"color":"#fff"},{"offset":0.85,"color":"#f00"},{"offset":0.868,"color":"#fff"},
  {"offset":0.932,"color":"#fff"},{"offset":0.95,"color":"#f00"},{"offset":0.968,"color":"#fff"}]}}
}
},
{
"data": {"name": "curve"},
"mark": {"type": "line", "color": "#0000ff", "strokeWidth": 2.5, "interpolate": "monotone"},
"encoding": {
"x": {"field": "x", "type": "quantitative",
  "axis": {"orient": "bottom", "values": [-1.75, -1.25, -0.75, -0.25, 0.25, 0.75, 1.25, 1.75], "labels": false, "domain": false, "grid": false, "tickSize": 3, "tickWidth": 1.5, "tickColor": "black", "title": null}},
"y": {"field": "y", "type": "quantitative",
  "axis": {"orient": "left", "values": [1, 3, 5, 7, 9, 11, 13, 15], "labels": false, "domain": false, "grid": false, "tickSize": 3, "tickWidth": 1.5, "tickColor": "black", "title": null}}
}
}
]
}
